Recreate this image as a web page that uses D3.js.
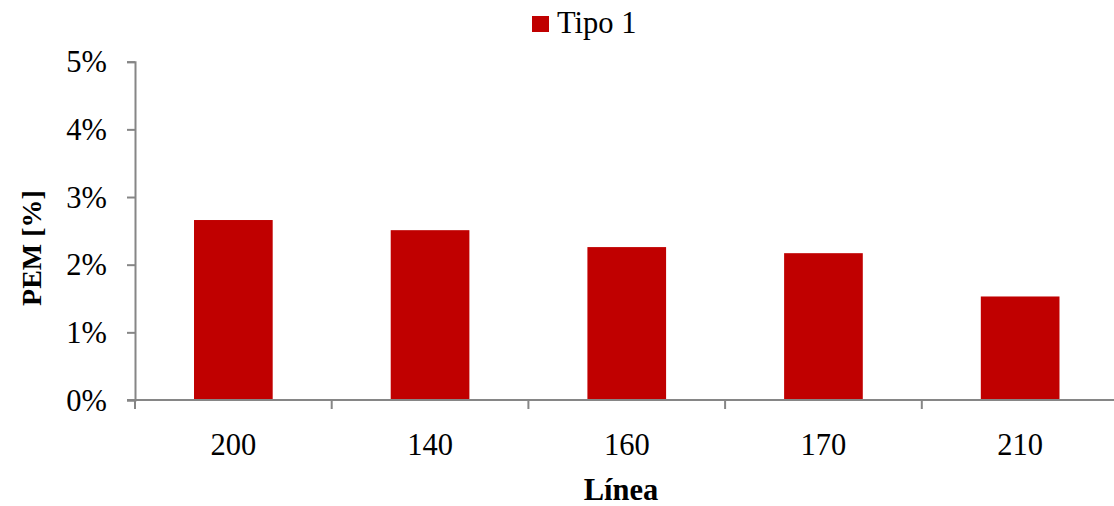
<!DOCTYPE html>
<html>
<head>
<meta charset="utf-8">
<script src="https://cdn.jsdelivr.net/npm/d3@7"></script>
<style>
  body { margin: 0; background: #fff; }
  svg { display: block; }
  text { font-family: "Liberation Serif", "Times New Roman", serif; fill: #000; }
</style>
</head>
<body>
<svg id="chart" width="1114" height="506"></svg>
<script>
const categories = ["200", "140", "160", "170", "210"];
const values = [0.0266, 0.0251, 0.0226, 0.0217, 0.0153];
const seriesName = "Tipo 1";
const yTicks = [0, 0.01, 0.02, 0.03, 0.04, 0.05];
const yTitle = "PEM [%]";
const xTitle = "Línea";

(function () {
const svg = d3.select("#chart");
const W = 1114, H = 506;
const mLeft = 135, mRight = 1118.5, mTop = 61.7, mBottom = 400;
const color = "#C00000";
const axisColor = "#868686";
const fs = 30.5;

const x = d3.scaleBand().domain(categories).range([mLeft, mRight]).padding(0);
const y = d3.scaleLinear().domain([0, 0.05]).range([mBottom, mTop]);

// bars
const bw = x.bandwidth() * 0.4;
svg.append("g").selectAll("rect").data(categories).join("rect")
  .attr("x", (d) => x(d) + x.bandwidth() / 2 - bw / 2)
  .attr("y", (d, i) => y(values[i]))
  .attr("width", bw)
  .attr("height", (d, i) => y(0) - y(values[i]))
  .attr("fill", color);

// y axis
const yAxis = d3.axisLeft(y).tickValues(yTicks).tickSize(8).tickPadding(20)
  .tickFormat(d3.format(".0%"));
const gy = svg.append("g").attr("transform", `translate(${mLeft},0)`).call(yAxis);
gy.select(".domain").attr("stroke", axisColor).attr("stroke-width", 2);
gy.selectAll(".tick line").attr("stroke", axisColor).attr("stroke-width", 2);
gy.selectAll(".tick text").attr("font-size", fs).attr("font-family", "Liberation Serif").attr("dy", "0.33em").attr("fill", "#000");

// x axis (ticks at band boundaries)
svg.append("line").attr("x1", mLeft - 8).attr("x2", W).attr("y1", mBottom).attr("y2", mBottom)
  .attr("stroke", axisColor).attr("stroke-width", 2);
const bounds = categories.map((c) => x(c));
svg.append("g").selectAll("line").data(bounds).join("line")
  .attr("x1", (d) => d).attr("x2", (d) => d)
  .attr("y1", mBottom).attr("y2", mBottom + 9)
  .attr("stroke", axisColor).attr("stroke-width", 2);
svg.append("g").selectAll("text").data(categories).join("text")
  .attr("x", (d) => x(d) + x.bandwidth() / 2)
  .attr("y", 455)
  .attr("text-anchor", "middle")
  .attr("font-size", fs)
  .text((d) => d);

// axis titles
svg.append("text").attr("x", 621).attr("y", 500).attr("text-anchor", "middle")
  .attr("font-size", fs).attr("font-weight", "bold").text(xTitle);
svg.append("text").attr("transform", `translate(41,248) rotate(-90)`)
  .attr("text-anchor", "middle").attr("font-size", 28).attr("font-weight", "bold").text(yTitle);

// legend
svg.append("rect").attr("x", 532).attr("y", 16).attr("width", 17).attr("height", 16).attr("fill", color);
svg.append("text").attr("x", 557).attr("y", 33).attr("font-size", fs).text(seriesName);
})();
</script>
</body>
</html>
